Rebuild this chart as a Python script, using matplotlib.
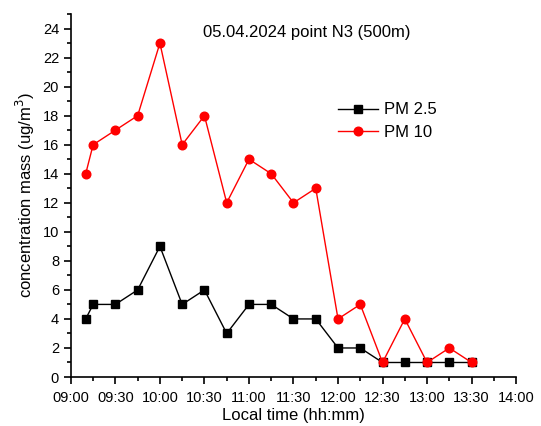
import matplotlib
matplotlib.use("Agg")
import matplotlib.pyplot as plt
from matplotlib.ticker import FuncFormatter, MultipleLocator

times = ["09:10", "09:15", "09:30", "09:45", "10:00", "10:15", "10:30", "10:45",
         "11:00", "11:15", "11:30", "11:45", "12:00", "12:15", "12:30", "12:45",
         "13:00", "13:15", "13:30"]
pm25 = [4, 5, 5, 6, 9, 5, 6, 3, 5, 5, 4, 4, 2, 2, 1, 1, 1, 1, 1]
pm10 = [14, 16, 17, 18, 23, 16, 18, 12, 15, 14, 12, 13, 4, 5, 1, 4, 1, 2, 1]
title = "05.04.2024 point N3 (500m)"

def to_min(s):
    h, m = s.split(":")
    return int(h) * 60 + int(m)

x = [to_min(t) for t in times]

plt.rcParams['font.family'] = ['Liberation Sans', 'DejaVu Sans']

fig = plt.figure(figsize=(5.41, 4.26), dpi=100)
ax = fig.add_axes([0.131, 0.115, 0.823, 0.852])

ax.plot(x, pm25, color='black', lw=1, marker='s', ms=5.4, label='PM 2.5')
ax.plot(x, pm10, color='red', lw=1, marker='o', ms=6.2, label='PM 10')

ax.set_xlim(to_min("09:00"), to_min("14:00"))
ax.xaxis.set_major_locator(MultipleLocator(30))
ax.xaxis.set_minor_locator(MultipleLocator(15))
ax.yaxis.set_minor_locator(MultipleLocator(1))
ax.xaxis.set_major_formatter(FuncFormatter(lambda v, p: f"{int(v)//60:02d}:{int(v)%60:02d}"))
ax.set_ylim(0, 25)
ax.set_yticks(range(0, 25, 2))

for s in ['top', 'right']:
    ax.spines[s].set_visible(False)
for s in ['left', 'bottom']:
    ax.spines[s].set_linewidth(1.2)
ax.tick_params(which='major', direction='out', length=5, width=1.2, labelsize=10.5)
ax.tick_params(axis='x', which='major', pad=5)
ax.tick_params(which='minor', direction='out', length=3, width=1.2)

ax.set_xlabel("Local time (hh:mm)", fontsize=12, labelpad=2)
ax.set_ylabel("concentration mass (ug/m$^3$)", fontsize=12, labelpad=4)
ax.text(0.53, 0.95, title, transform=ax.transAxes, ha='center', va='center', fontsize=12)

ax.legend(loc='upper left', bbox_to_anchor=(0.585, 0.775), frameon=False, fontsize=12,
          handlelength=2.4, handletextpad=0.35, labelspacing=0.45, borderaxespad=0)

fig.savefig("out.png", dpi=100)
